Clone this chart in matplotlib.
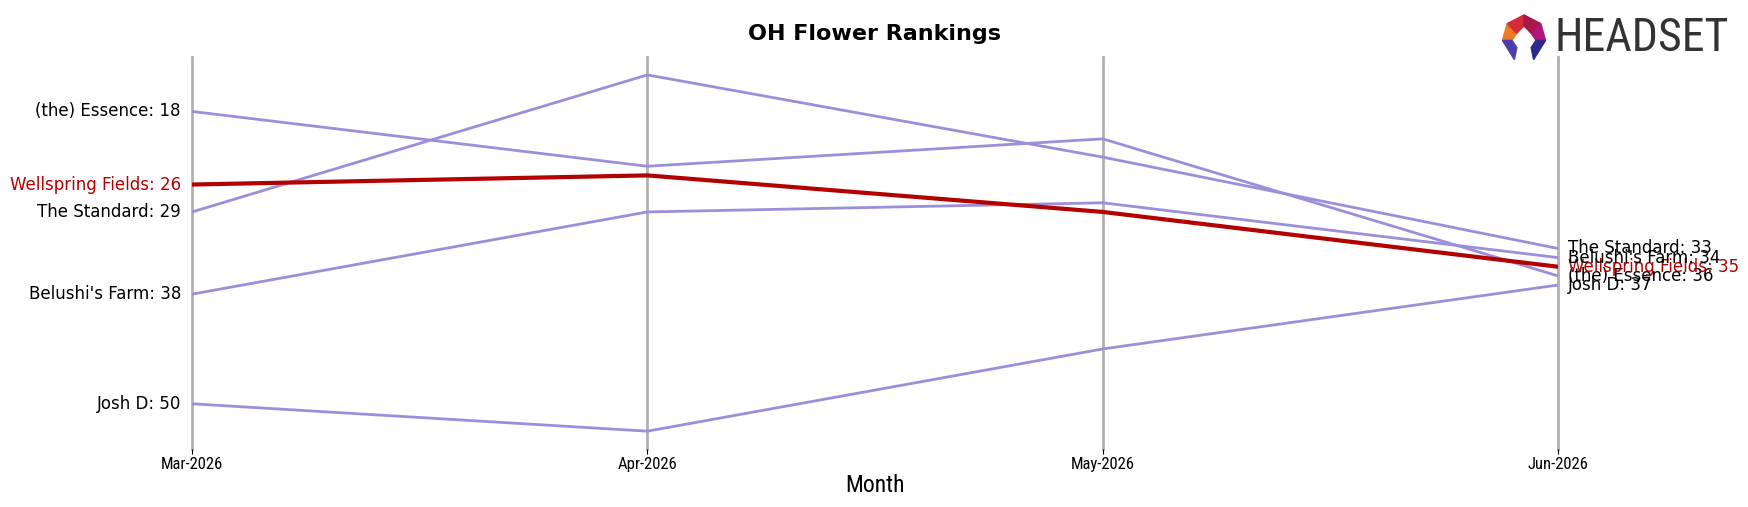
import matplotlib
matplotlib.use("Agg")
import matplotlib.pyplot as plt
from matplotlib.patches import Polygon
from matplotlib import font_manager

months = ["Mar-2026", "Apr-2026", "May-2026", "Jun-2026"]
brands = ["(the) Essence", "Wellspring Fields", "The Standard", "Belushi's Farm", "Josh D"]
essence = [18, 24, 21, 36]
wellspring = [26, 25, 29, 35]
standard = [29, 14, 23, 33]
belushi = [38, 29, 28, 34]
josh = [50, 53, 44, 37]
ranks = [essence, wellspring, standard, belushi, josh]
highlight = "Wellspring Fields"

names = sorted({f.name for f in font_manager.fontManager.ttflist})
narrow = "DejaVu Sans"
for cand in ["Liberation Sans Narrow", "Roboto Condensed", "Open Sans Condensed",
             "DejaVu Sans Condensed", "Noto Sans Condensed"]:
    if cand in names:
        narrow = cand
        break

fig = plt.figure(figsize=(17.49, 5.07), dpi=100)
ax = fig.add_axes([0.1098, 0.1144, 0.781, 0.773])

x = list(range(len(months)))
for i in x:
    ax.axvline(i, color="#b0b0b0", lw=2, zorder=0, clip_on=False)

for name, r in zip(brands, ranks):
    if name == highlight:
        ax.plot(x, r, color="#b30000", lw=3, zorder=3)
        col = "#b30000"
    else:
        ax.plot(x, r, color="#9b8fdb", lw=2, zorder=2)
        col = "black"
    ax.annotate(f"{name}: {r[0]}", (0, r[0]), xytext=(-8, 0), textcoords="offset points",
                ha="right", va="center", fontsize=12, color=col)
    ax.annotate(f"{name}: {r[-1]}", (x[-1], r[-1]), xytext=(7, 0), textcoords="offset points",
                ha="left", va="center", fontsize=12, color=col)

ax.invert_yaxis()
ax.set_yticks([])
ax.set_xticks(x)
ax.set_xticklabels(months, fontsize=12, family=narrow, stretch="condensed")
ax.tick_params(axis="x", pad=2)
ax.set_xlim(x[0], x[-1])
for s in ax.spines.values():
    s.set_visible(False)
ax.set_xlabel("Month", fontsize=17, family=narrow, stretch="condensed", labelpad=2)
fig.text(0.5, 0.932, "OH Flower Rankings", ha="center", va="center", fontsize=16, fontweight="bold")

# logo
lax = fig.add_axes([1500 / 1749, 1 - 62 / 507, 48 / 1749, 48 / 507])
lax.set_xlim(0, 1)
lax.set_ylim(0, 1)
lax.axis("off")
pieces = [
    ([(0.05, 0.45), (0.15, 0.8), (0.35, 0.6), (0.25, 0.45)], "#f07a24"),
    ([(0.15, 0.8), (0.5, 0.98), (0.5, 0.75), (0.35, 0.6)], "#d42a3a"),
    ([(0.5, 0.98), (0.85, 0.8), (0.65, 0.6), (0.5, 0.75)], "#a8174a"),
    ([(0.85, 0.8), (0.95, 0.45), (0.75, 0.45), (0.65, 0.6)], "#b0157a"),
    ([(0.05, 0.45), (0.25, 0.45), (0.35, 0.3), (0.3, 0.05)], "#4b3fae"),
    ([(0.95, 0.45), (0.75, 0.45), (0.65, 0.3), (0.7, 0.05)], "#2e2a8a"),
]
for pts, c in pieces:
    lax.add_patch(Polygon(pts, closed=True, color=c))
hs = 33 if narrow != "DejaVu Sans" else 24
fig.text(1555 / 1749, 1 - 38 / 507, "HEADSET", ha="left", va="center", fontsize=hs,
         color="#333333", family=narrow, stretch="condensed")

fig.savefig("out.png", dpi=100)
